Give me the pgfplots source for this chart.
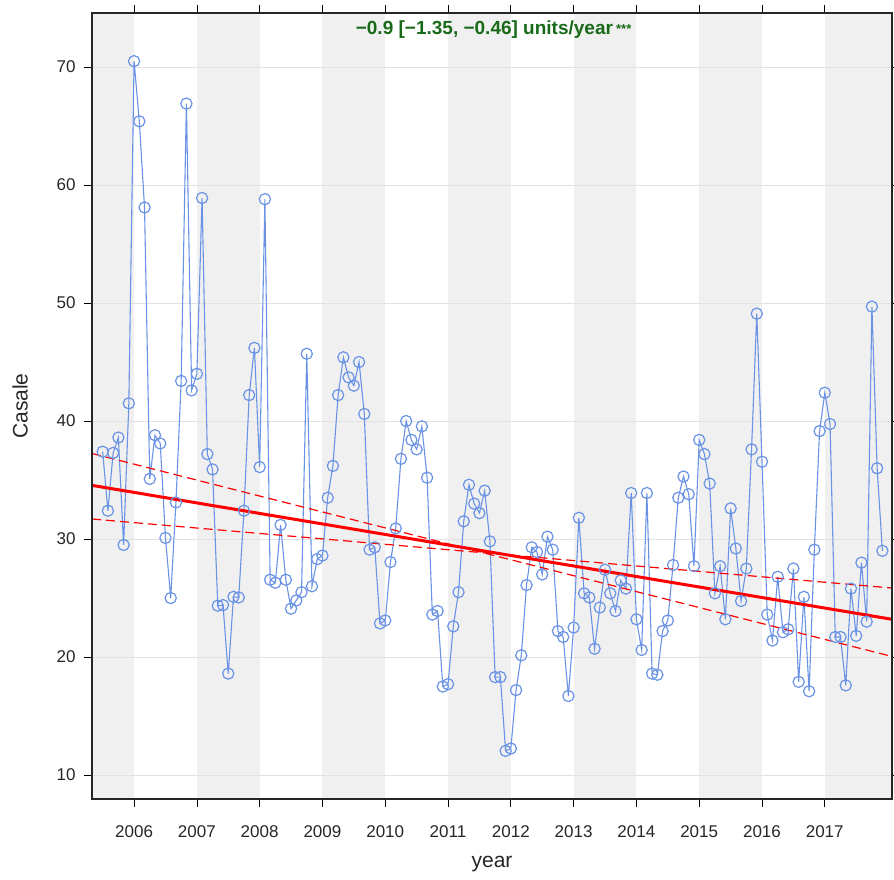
\documentclass[border=0pt]{standalone}
\usepackage{fontspec}
\setmainfont{Liberation Sans}
\usepackage{pgfplots}
\pgfplotsset{compat=1.18}
\usepackage{pgfplotstable}
\definecolor{band}{HTML}{F0F0F0}
\definecolor{gridc}{HTML}{E2E2E2}
\definecolor{dat}{HTML}{6A93E6}
\definecolor{ttl}{HTML}{186A18}

\pgfplotstableread{
yr mo v
2005 7 37.4
2005 8 32.4
2005 9 37.3
2005 10 38.6
2005 11 29.5
2005 12 41.5
2006 1 70.5
2006 2 65.4
2006 3 58.1
2006 4 35.1
2006 5 38.8
2006 6 38.1
2006 7 30.1
2006 8 25.0
2006 9 33.1
2006 10 43.4
2006 11 66.9
2006 12 42.6
2007 1 44.0
2007 2 58.9
2007 3 37.2
2007 4 35.9
2007 5 24.35
2007 6 24.4
2007 7 18.6
2007 8 25.1
2007 9 25.05
2007 10 32.4
2007 11 42.2
2007 12 46.2
2008 1 36.1
2008 2 58.8
2008 3 26.55
2008 4 26.3
2008 5 31.2
2008 6 26.55
2008 7 24.1
2008 8 24.8
2008 9 25.5
2008 10 45.7
2008 11 26.0
2008 12 28.3
2009 1 28.6
2009 2 33.5
2009 3 36.2
2009 4 42.2
2009 5 45.4
2009 6 43.7
2009 7 43.0
2009 8 45.0
2009 9 40.6
2009 10 29.1
2009 11 29.3
2009 12 22.85
2010 1 23.1
2010 2 28.05
2010 3 30.9
2010 4 36.8
2010 5 40.0
2010 6 38.4
2010 7 37.6
2010 8 39.55
2010 9 35.2
2010 10 23.6
2010 11 23.9
2010 12 17.5
2011 1 17.7
2011 2 22.6
2011 3 25.5
2011 4 31.5
2011 5 34.6
2011 6 33.0
2011 7 32.2
2011 8 34.1
2011 9 29.8
2011 10 18.3
2011 11 18.3
2011 12 12.05
2012 1 12.25
2012 2 17.2
2012 3 20.15
2012 4 26.1
2012 5 29.3
2012 6 28.9
2012 7 27.0
2012 8 30.2
2012 9 29.1
2012 10 22.2
2012 11 21.7
2012 12 16.7
2013 1 22.5
2013 2 31.8
2013 3 25.4
2013 4 25.05
2013 5 20.7
2013 6 24.2
2013 7 27.4
2013 8 25.4
2013 9 23.9
2013 10 26.5
2013 11 25.8
2013 12 33.9
2014 1 23.2
2014 2 20.6
2014 3 33.9
2014 4 18.6
2014 5 18.5
2014 6 22.2
2014 7 23.1
2014 8 27.8
2014 9 33.5
2014 10 35.3
2014 11 33.8
2014 12 27.7
2015 1 38.4
2015 2 37.2
2015 3 34.7
2015 4 25.4
2015 5 27.7
2015 6 23.2
2015 7 32.6
2015 8 29.2
2015 9 24.75
2015 10 27.5
2015 11 37.6
2015 12 49.1
2016 1 36.55
2016 2 23.6
2016 3 21.4
2016 4 26.8
2016 5 22.1
2016 6 22.35
2016 7 27.5
2016 8 17.9
2016 9 25.1
2016 10 17.1
2016 11 29.1
2016 12 39.15
2017 1 42.4
2017 2 39.75
2017 3 21.7
2017 4 21.7
2017 5 17.6
2017 6 25.8
2017 7 21.8
2017 8 28.0
2017 9 23.0
2017 10 49.7
2017 11 36.0
2017 12 29.0
}\datatab

\begin{document}
\begin{tikzpicture}
\begin{axis}[
  name=ax, at={(0,0)}, anchor=south west,
  width=800pt, height=786pt, scale only axis,
  xmin=2005.33, xmax=2018.07, ymin=7.97, ymax=74.58,
  xtick={2006,2007,...,2017}, ytick={10,20,...,70},
  tick align=outside, major tick length=8pt,
  tick style={black, line width=0.7pt},
  axis line style={black!85, line width=1.1pt},
  axis on top=true,
  /pgf/number format/assume math mode=true,
  /pgf/number format/1000 sep={},
  ticklabel style={font=\fontsize{17}{17}\selectfont, text=black!85},
  xticklabel style={yshift=-15pt},
  yticklabel style={xshift=-5pt},
  xlabel={year}, ylabel={Casale},
  label style={font=\fontsize{21}{21}\selectfont, text=black!85},
  xlabel style={at={(axis description cs:0.5,-0.083)}, anchor=center},
  ylabel style={at={(axis description cs:-0.09,0.5)}, anchor=center},
  clip=true,
]
% alternating year bands
\fill[band] (axis cs:2005.33,7.97) rectangle (axis cs:2006,74.58);
\fill[band] (axis cs:2007,7.97) rectangle (axis cs:2008,74.58);
\fill[band] (axis cs:2009,7.97) rectangle (axis cs:2010,74.58);
\fill[band] (axis cs:2011,7.97) rectangle (axis cs:2012,74.58);
\fill[band] (axis cs:2013,7.97) rectangle (axis cs:2014,74.58);
\fill[band] (axis cs:2015,7.97) rectangle (axis cs:2016,74.58);
\fill[band] (axis cs:2017,7.97) rectangle (axis cs:2018.07,74.58);
% horizontal grid lines
\pgfplotsinvokeforeach{10,20,30,40,50,60,70}{
  \draw[gridc, line width=0.9pt] (axis cs:2005.33,#1) -- (axis cs:2018.07,#1);
}
% data
\addplot[dat, line width=1.1pt, mark=o, mark size=5.6pt, mark options={line width=1.2pt}]
  table[x expr=\thisrow{yr}+(\thisrow{mo}-1)/12, y=v] {\datatab};
% Theil-Sen trend and confidence slopes
\addplot[red, line width=3pt] coordinates {(2005.33,34.55) (2018.07,23.2)};
\addplot[red, line width=1.2pt, dash pattern=on 9pt off 5pt] coordinates {(2005.33,37.25) (2018.07,20.05)};
\addplot[red, line width=1.2pt, dash pattern=on 9pt off 5pt] coordinates {(2005.33,31.7) (2018.07,25.85)};
\node[text=ttl, font=\bfseries\fontsize{19}{19}\selectfont] at (rel axis cs:0.502,0.979)
  {−0.9 [−1.35, −0.46] units/year\,\raisebox{1pt}{\fontsize{13}{13}\selectfont ***}};
\end{axis}
\pgfresetboundingbox
\path[use as bounding box] (-92pt,-80pt) rectangle (802pt,799pt);
\end{tikzpicture}
\end{document}
